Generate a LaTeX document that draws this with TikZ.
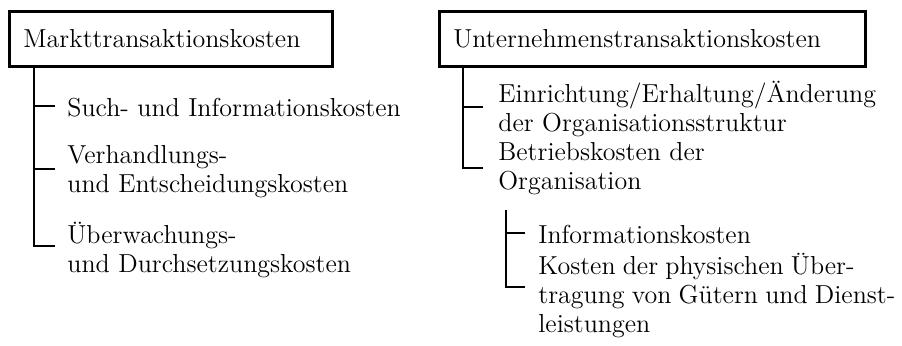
\documentclass[tikz,border=0pt]{standalone}
\usepackage{tikz}
\usetikzlibrary{positioning,calc}
\newcommand\tightSpaces{\spaceskip=3.6pt\relax}

\begin{document}
\begin{tikzpicture}[
      x=0.5pt,y=-0.5pt,
      every node/.style={font=\fontsize{13}{14.5}\selectfont},
      headBox/.style={draw,line width=1.4pt,anchor=north west,
                      inner xsep=7pt,inner ysep=0pt,minimum height=27.5pt,
                      text width=#1,align=left},
      itemText/.style={anchor=base west,inner sep=0pt,align=left},
      treeLine/.style={line width=0.6pt}
    ]
    \useasboundingbox (0,0) rectangle (902,345);

    % Market side (items placed at the baseline of their last line)
    \node(mk)[headBox=147.5pt] at (8,10) {Markttransaktionskosten};
    \node(m1)[itemText] at (67,116) {Such- und Informationskosten};
    \node(m2)[itemText] at (67,192) {Verhandlungs-\\und Entscheidungskosten};
    \node(m3)[itemText] at (67,272) {Überwachungs-\\und Durchsetzungskosten};

    % Company side
    \node(uk)[headBox=199pt] at (438,10) {Unternehmenstransaktionskosten};
    \node(u1)[itemText] at (498,131) {Einrichtung/Erhaltung/Änderung\\der Organisationsstruktur};
    \node(u2)[itemText] at (498,189) {Betriebskosten der\\Organisation};
    \node(b1)[itemText] at (538,243) {Informationskosten};
    \node(b2)[itemText,font=\fontsize{13}{14.5}\selectfont\tightSpaces]
      at (538,332) {Kosten der physischen Über-\\tragung von Gütern und Dienst-\\leistungen};

    % Tree lines, market side
    \draw[treeLine] ([xshift=13pt]mk.south west) |- ([xshift=-6pt,yshift=13pt]m3.base west);
    \draw[treeLine] ([xshift=-16.5pt,yshift=5pt]m1.base west) -- ++(10.5pt,0);
    \draw[treeLine] ([xshift=-16.5pt,yshift=11.5pt]m2.base west) -- ++(10.5pt,0);

    % Tree lines, company side
    \draw[treeLine] ([xshift=12.5pt]uk.south west) |- ([xshift=-7.5pt,yshift=10.5pt]u2.base west);
    \draw[treeLine] ([xshift=-17.5pt,yshift=12pt]u1.base west) -- ++(10pt,0);
    \draw[treeLine] ([xshift=4pt,yshift=-10.5pt]u2.base west) |- ([xshift=-6.5pt,yshift=22.5pt]b2.base west);
    \draw[treeLine] ([xshift=-16pt,yshift=5pt]b1.base west) -- ++(9.5pt,0);
  \end{tikzpicture}
\end{document}
